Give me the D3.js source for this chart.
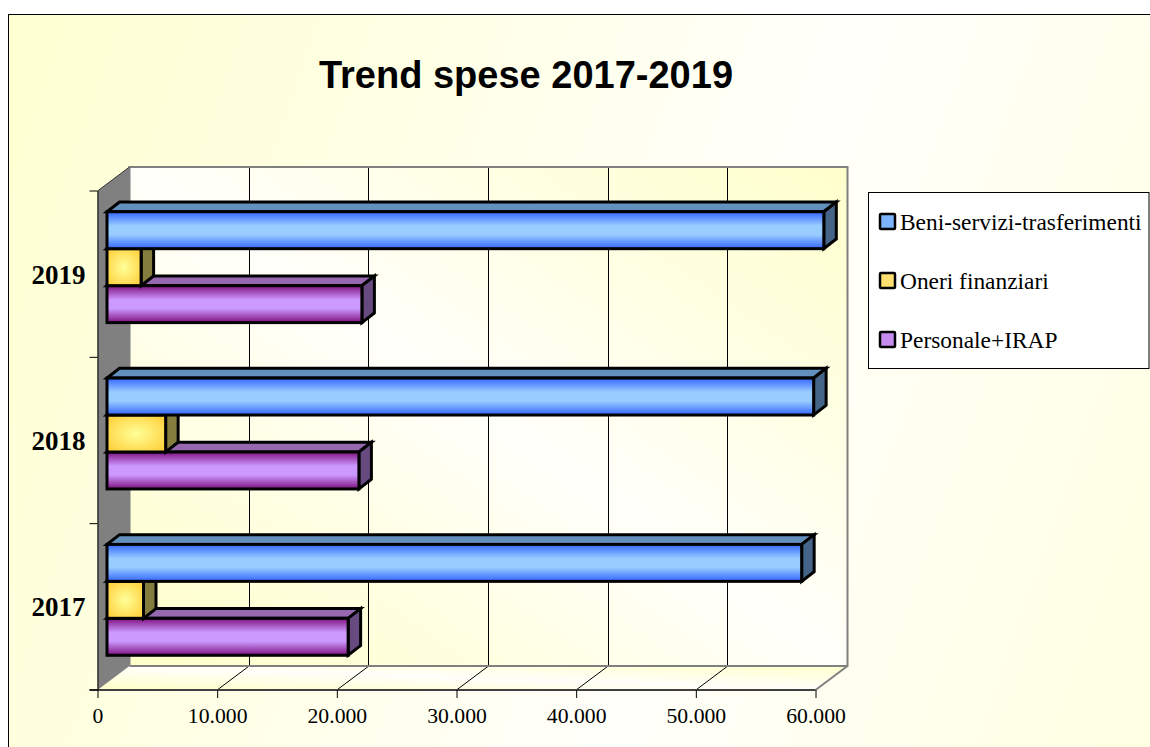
<!DOCTYPE html>
<html>
<head>
<meta charset="utf-8">
<script src="https://cdn.jsdelivr.net/npm/d3@7"></script>
<style>
  html, body { margin: 0; padding: 0; background: #fff; overflow: hidden; }
  svg { display: block; }
</style>
</head>
<body>
<div id="chart"></div>
<script>
var years = ["2017", "2018", "2019"];
var seriesNames = ["Personale+IRAP", "Oneri finanziari", "Beni-servizi-trasferimenti"];
var personale = [20150, 21050, 21300];
var oneri = [3050, 4900, 2850];
var beni = [58050, 59050, 59900];
var xTicks = [0, 10000, 20000, 30000, 40000, 50000, 60000];
var legendOrder = ["Beni-servizi-trasferimenti", "Oneri finanziari", "Personale+IRAP"];

var valuesBySeries = {};
valuesBySeries[seriesNames[0]] = personale;
valuesBySeries[seriesNames[1]] = oneri;
valuesBySeries[seriesNames[2]] = beni;

var colors = {};
colors[seriesNames[0]] = { id: "purple", edge: "#7f107f", mid: "#cc99ff", top: "#9568b0", side: "#664a80", swatch: "#c58cf0" };
colors[seriesNames[1]] = { id: "yellow", edge: "#ffcc33", mid: "#ffff99", top: "#8a8240", side: "#857d3e", swatch: "#ffe070" };
colors[seriesNames[2]] = { id: "blue", edge: "#3366ff", mid: "#99ccff", top: "#6390bd", side: "#446488", swatch: "#7db4ff" };

var width = 1150, height = 747;

//front plane of the 3d box
var x0 = 97.5, x1 = 815.5, yTop = 191, yBottom = 690;
//depth of the box, and of the bars in it
var depthX = 32, depthY = -24;
var barShiftX = 9.5, barShiftY = -7;
var barDepthX = 12.5, barDepthY = -9.7;

var xScale = d3.scaleLinear().domain([0, 60000]).range([x0, x1]);
var yScale = d3.scaleBand().domain(years).range([yBottom, yTop]);
var innerScale = d3.scaleBand()
    .domain(seriesNames.slice().reverse())
    .range([0, yScale.bandwidth()])
    .paddingInner(0)
    .paddingOuter(0.75);

var italian = d3.formatLocale({ decimal: ",", thousands: ".", grouping: [3], currency: ["€", ""] });

var svg = d3.select("#chart")
    .append("svg")
    .attr("width", width)
    .attr("height", height);

var defs = svg.append("defs");

function linear(id, x1g, y1g, x2g, y2g, stops, units) {
    var g = defs.append("linearGradient")
        .attr("id", id)
        .attr("x1", x1g).attr("y1", y1g)
        .attr("x2", x2g).attr("y2", y2g);
    if (units) g.attr("gradientUnits", units);
    stops.forEach(function (s) {
        g.append("stop").attr("offset", s[0]).attr("stop-color", s[1]);
    });
}

linear("pageBg", 0, 200, 1150, 600, [[0, "#ffffd4"], [0.62, "#fffffa"], [1, "#ffffe4"]], "userSpaceOnUse");
//yellow in the top right and bottom left corners, pale across the middle
linear("wallBg", 1, 0, 0, 1, [[0, "#ffffcc"], [0.5, "#fffffa"], [1, "#ffffc8"]]);

seriesNames.forEach(function (name) {
    var c = colors[name];
    if (c.id === "yellow") {
        var r = defs.append("radialGradient").attr("id", "bar-" + c.id).attr("r", 0.68);
        r.append("stop").attr("offset", 0).attr("stop-color", c.mid);
        r.append("stop").attr("offset", 1).attr("stop-color", c.edge);
    } else {
        linear("bar-" + c.id, 0, 0, 0, 1, [[0, c.edge], [0.38, c.mid], [0.62, c.mid], [1, c.edge]]);
    }
});

//page background with its frame
svg.append("rect")
    .attr("x", 8.5).attr("y", 14.5)
    .attr("width", width + 10).attr("height", height + 10)
    .attr("fill", "url(#pageBg)")
    .attr("stroke", "#000")
    .attr("stroke-width", 1);

//title
svg.append("text")
    .attr("x", 526)
    .attr("y", 88)
    .attr("text-anchor", "middle")
    .attr("font-family", "'Liberation Sans', Arial, sans-serif")
    .attr("font-weight", "bold")
    .attr("font-size", 38)
    .attr("fill", "#000")
    .text("Trend spese 2017-2019");

function pts(arr) {
    return arr.map(function (p) { return p[0] + "," + p[1]; }).join(" ");
}

//back wall
svg.append("rect")
    .attr("x", x0 + depthX).attr("y", yTop + depthY)
    .attr("width", x1 - x0).attr("height", yBottom - yTop)
    .attr("fill", "url(#wallBg)");

//floor
svg.append("polygon")
    .attr("points", pts([[x0, yBottom], [x1, yBottom], [x1 + depthX, yBottom + depthY], [x0 + depthX, yBottom + depthY]]))
    .attr("fill", "url(#wallBg)");

//left wall
svg.append("polygon")
    .attr("points", pts([[x0, yTop], [x0 + depthX, yTop + depthY], [x0 + depthX, yBottom + depthY], [x0, yBottom]]))
    .attr("fill", "#808080");

//grid lines, back wall and floor
var grid = svg.append("g");
grid.selectAll(".wallLine")
    .data(xTicks.slice(1, -1))
    .enter()
    .append("line")
    .attr("x1", function (d) { return xScale(d) + depthX; })
    .attr("x2", function (d) { return xScale(d) + depthX; })
    .attr("y1", yTop + depthY)
    .attr("y2", yBottom + depthY)
    .attr("stroke", "#000")
    .attr("stroke-width", 1)
    .attr("shape-rendering", "crispEdges");
grid.selectAll(".floorLine")
    .data(xTicks.slice(1, -1))
    .enter()
    .append("line")
    .attr("x1", function (d) { return xScale(d); })
    .attr("x2", function (d) { return xScale(d) + depthX; })
    .attr("y1", yBottom)
    .attr("y2", yBottom + depthY)
    .attr("stroke", "#000")
    .attr("stroke-width", 1);

//box outlines
svg.append("polyline")
    .attr("points", pts([[x0 + depthX, yBottom + depthY], [x0 + depthX, yTop + depthY], [x1 + depthX, yTop + depthY], [x1 + depthX, yBottom + depthY], [x0 + depthX, yBottom + depthY]]))
    .attr("fill", "none")
    .attr("stroke", "#808080")
    .attr("stroke-width", 2);
svg.append("line")
    .attr("x1", x1).attr("y1", yBottom)
    .attr("x2", x1 + depthX).attr("y2", yBottom + depthY)
    .attr("stroke", "#808080")
    .attr("stroke-width", 2);
svg.append("line")
    .attr("x1", x0).attr("y1", yTop)
    .attr("x2", x0 + depthX).attr("y2", yTop + depthY)
    .attr("stroke", "#333")
    .attr("stroke-width", 1);

//x axis
var xAxis = d3.axisBottom(xScale)
    .tickValues(xTicks)
    .tickSize(8)
    .tickPadding(10)
    .tickFormat(function (d) { return italian.format(",")(d); });
var xG = svg.append("g")
    .attr("transform", "translate(0," + yBottom + ")")
    .call(xAxis);
xG.select(".domain").attr("stroke", "#404040").attr("stroke-width", 2).attr("d", "M" + (x0 - 8) + ",0H" + x1);
xG.selectAll("text")
    .attr("font-family", "'Liberation Serif', serif")
    .attr("font-size", 21.7)
    .attr("fill", "#000");

//y axis, labels in the middle of the band and ticks on the band edges
var yAxis = d3.axisLeft(yScale).tickSize(0).tickPadding(12);
var yG = svg.append("g")
    .attr("transform", "translate(" + x0 + ",1)")
    .call(yAxis);
yG.select(".domain").attr("stroke", "#000").attr("d", "M0.5," + (yTop - 1) + "V" + (yBottom - 1));
yG.selectAll("text")
    .attr("font-family", "'Liberation Serif', serif")
    .attr("font-weight", "bold")
    .attr("font-size", 27)
    .attr("fill", "#000");
svg.append("g").selectAll("line")
    .data(years.concat(["top"]))
    .enter()
    .append("line")
    .attr("x1", x0 - 8)
    .attr("x2", x0)
    .attr("y1", function (d) { return d === "top" ? yTop : yScale(d) + yScale.bandwidth(); })
    .attr("y2", function (d) { return d === "top" ? yTop : yScale(d) + yScale.bandwidth(); })
    .attr("stroke", "#000");

//bars, lower series first so the upper ones sit over them
var barStroke = 3;
var bars = svg.append("g");
years.forEach(function (year, i) {
    seriesNames.forEach(function (name) {
        var c = colors[name];
        var left = xScale(0) + barShiftX;
        var right = xScale(valuesBySeries[name][i]) + barShiftX;
        var top = yScale(year) + innerScale(name) + barShiftY;
        var bottom = top + innerScale.bandwidth();
        var g = bars.append("g")
            .attr("stroke", "#000")
            .attr("stroke-width", barStroke)
            .attr("stroke-linejoin", "miter");
        g.append("polygon")
            .attr("points", pts([[left, top], [left + barDepthX, top + barDepthY], [right + barDepthX, top + barDepthY], [right, top]]))
            .attr("fill", c.top);
        g.append("polygon")
            .attr("points", pts([[right, top], [right + barDepthX, top + barDepthY], [right + barDepthX, bottom + barDepthY], [right, bottom]]))
            .attr("fill", c.side);
        g.append("rect")
            .attr("x", left).attr("y", top)
            .attr("width", right - left).attr("height", bottom - top)
            .attr("fill", "url(#bar-" + c.id + ")");
    });
});

//legend
var legendG = svg.append("g");
legendG.append("rect")
    .attr("x", 868.5).attr("y", 192.5)
    .attr("width", 280.5).attr("height", 176)
    .attr("fill", "#fff")
    .attr("stroke", "#000");

var legendY = d3.scalePoint().domain(legendOrder).range([221.5, 339.5]);
var legendItem = legendG.selectAll(".item")
    .data(legendOrder)
    .enter()
    .append("g")
    .attr("transform", function (d) { return "translate(880," + legendY(d) + ")"; });
legendItem.append("rect")
    .attr("x", 0).attr("y", -7.5)
    .attr("width", 15).attr("height", 15)
    .attr("rx", 1)
    .attr("fill", function (d) { return colors[d].swatch; })
    .attr("stroke", "#000")
    .attr("stroke-width", 2.5);
legendItem.append("text")
    .attr("x", 20)
    .attr("y", 8)
    .attr("font-family", "'Liberation Serif', serif")
    .attr("font-size", 23.4)
    .attr("fill", "#000")
    .text(function (d) { return d; });
</script>
</body>
</html>
